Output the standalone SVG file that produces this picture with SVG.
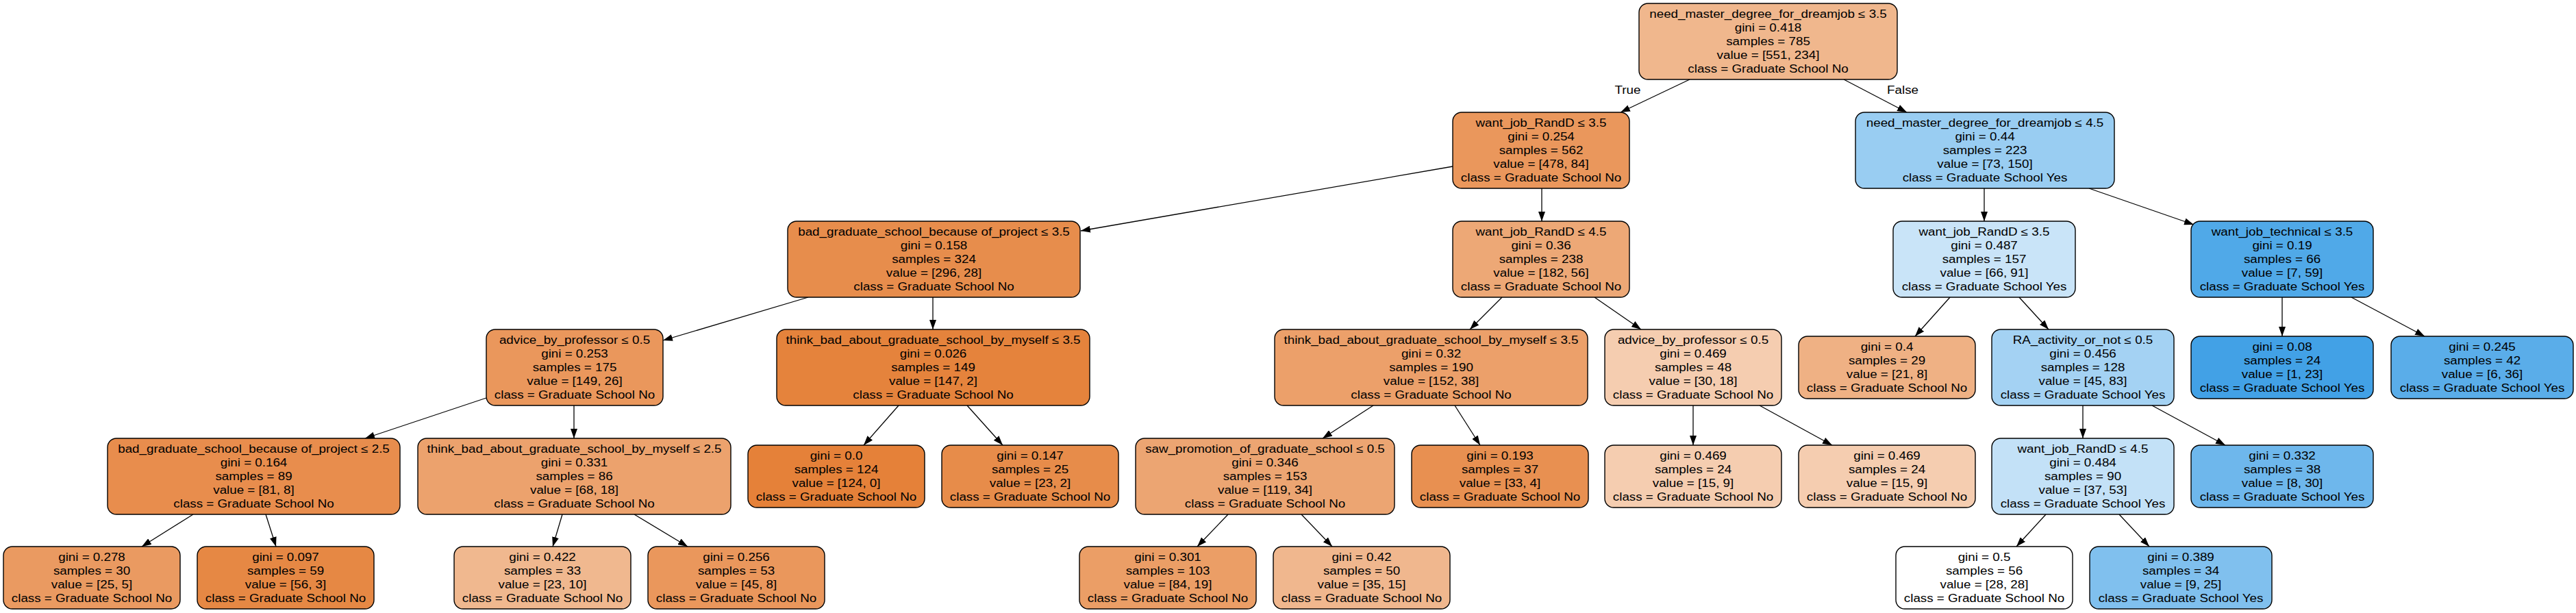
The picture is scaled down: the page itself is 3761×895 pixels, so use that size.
<svg xmlns="http://www.w3.org/2000/svg" width="3761" height="895" viewBox="0 0 3761 895">
<style>
.node rect{stroke:#000;stroke-width:1.4}
text{font-family:"Liberation Sans",Arial,Helvetica,sans-serif;font-size:16px;text-anchor:middle;fill:#000}
.edges line{stroke:#000;stroke-width:1.3;marker-end:url(#arr)}
</style>
<defs>
<marker id="arr" markerUnits="userSpaceOnUse" viewBox="0 0 14 10" refX="14" refY="5" markerWidth="14" markerHeight="10" orient="auto">
<path d="M0,0 L14,5 L0,10 z" fill="#000"/>
</marker>
</defs>
<rect x="0" y="0" width="3761" height="895" fill="#fff"/>
<g class="edges" id="edges">
<line x1="2467" y1="116" x2="2366" y2="164"/>
<line x1="2692" y1="116" x2="2784" y2="164"/>
<line x1="2121" y1="243" x2="1578" y2="337"/>
<line x1="2251" y1="275" x2="2251" y2="323"/>
<line x1="2897" y1="275" x2="2897" y2="323"/>
<line x1="3050" y1="275" x2="3203" y2="328"/>
<line x1="1180" y1="434" x2="968" y2="497"/>
<line x1="1362" y1="434" x2="1362" y2="481"/>
<line x1="2193" y1="434" x2="2146" y2="481"/>
<line x1="2328" y1="434" x2="2396" y2="481"/>
<line x1="2847" y1="434" x2="2796" y2="491"/>
<line x1="2948" y1="434" x2="2991" y2="481"/>
<line x1="3332" y1="434" x2="3332" y2="491"/>
<line x1="3433" y1="434" x2="3540" y2="491"/>
<line x1="710" y1="581" x2="533" y2="640"/>
<line x1="838" y1="592" x2="838" y2="640"/>
<line x1="1312" y1="592" x2="1261" y2="650"/>
<line x1="1412" y1="592" x2="1464" y2="650"/>
<line x1="2005" y1="592" x2="1931" y2="640"/>
<line x1="2124" y1="592" x2="2161" y2="650"/>
<line x1="2472" y1="592" x2="2472" y2="650"/>
<line x1="2569" y1="592" x2="2675" y2="650"/>
<line x1="3041" y1="592" x2="3041" y2="640"/>
<line x1="3142" y1="592" x2="3249" y2="650"/>
<line x1="282" y1="751" x2="207" y2="798"/>
<line x1="388" y1="751" x2="403" y2="798"/>
<line x1="821" y1="751" x2="807" y2="798"/>
<line x1="926" y1="751" x2="1004" y2="798"/>
<line x1="1793" y1="751" x2="1748" y2="798"/>
<line x1="1900" y1="751" x2="1945" y2="798"/>
<line x1="2987" y1="751" x2="2944" y2="798"/>
<line x1="3094" y1="751" x2="3138" y2="798"/>
<g transform="translate(2376.5,0) scale(1.175,1)"><text y="137">True</text></g>
<g transform="translate(2778,0) scale(1.175,1)"><text y="137">False</text></g>
</g>

<g class="node" id="n0"><rect x="2393" y="5" width="377" height="111" rx="13" fill="#f0b78d"/>
<g transform="translate(2581.5,5) scale(1.175,1)"><text y="21">need_master_degree_for_dreamjob ≤ 3.5</text><text y="41">gini = 0.418</text><text y="61">samples = 785</text><text y="81">value = [551, 234]</text><text y="101">class = Graduate School No</text></g></g>

<g class="node" id="n1"><rect x="2121" y="164" width="258" height="111" rx="13" fill="#ea975c"/>
<g transform="translate(2250,164) scale(1.175,1)"><text y="21">want_job_RandD ≤ 3.5</text><text y="41">gini = 0.254</text><text y="61">samples = 562</text><text y="81">value = [478, 84]</text><text y="101">class = Graduate School No</text></g></g>

<g class="node" id="n2"><rect x="2709" y="164" width="378" height="111" rx="13" fill="#99cdf2"/>
<g transform="translate(2898,164) scale(1.175,1)"><text y="21">need_master_degree_for_dreamjob ≤ 4.5</text><text y="41">gini = 0.44</text><text y="61">samples = 223</text><text y="81">value = [73, 150]</text><text y="101">class = Graduate School Yes</text></g></g>

<g class="node" id="n3"><rect x="1150" y="323" width="427" height="111" rx="13" fill="#e78d4c"/>
<g transform="translate(1363.5,323) scale(1.175,1)"><text y="21">bad_graduate_school_because of_project ≤ 3.5</text><text y="41">gini = 0.158</text><text y="61">samples = 324</text><text y="81">value = [296, 28]</text><text y="101">class = Graduate School No</text></g></g>

<g class="node" id="n4"><rect x="2121" y="323" width="258" height="111" rx="13" fill="#eda876"/>
<g transform="translate(2250,323) scale(1.175,1)"><text y="21">want_job_RandD ≤ 4.5</text><text y="41">gini = 0.36</text><text y="61">samples = 238</text><text y="81">value = [182, 56]</text><text y="101">class = Graduate School No</text></g></g>

<g class="node" id="n5"><rect x="2764" y="323" width="266" height="111" rx="13" fill="#c9e4f8"/>
<g transform="translate(2897,323) scale(1.175,1)"><text y="21">want_job_RandD ≤ 3.5</text><text y="41">gini = 0.487</text><text y="61">samples = 157</text><text y="81">value = [66, 91]</text><text y="101">class = Graduate School Yes</text></g></g>

<g class="node" id="n6"><rect x="3199" y="323" width="266" height="111" rx="13" fill="#50a9e8"/>
<g transform="translate(3332,323) scale(1.175,1)"><text y="21">want_job_technical ≤ 3.5</text><text y="41">gini = 0.19</text><text y="61">samples = 66</text><text y="81">value = [7, 59]</text><text y="101">class = Graduate School Yes</text></g></g>

<g class="node" id="n7"><rect x="710" y="481" width="258" height="111" rx="13" fill="#ea975c"/>
<g transform="translate(839,481) scale(1.175,1)"><text y="21">advice_by_professor ≤ 0.5</text><text y="41">gini = 0.253</text><text y="61">samples = 175</text><text y="81">value = [149, 26]</text><text y="101">class = Graduate School No</text></g></g>

<g class="node" id="n8"><rect x="1134" y="481" width="457" height="111" rx="13" fill="#e5833c"/>
<g transform="translate(1362.5,481) scale(1.175,1)"><text y="21">think_bad_about_graduate_school_by_myself ≤ 3.5</text><text y="41">gini = 0.026</text><text y="61">samples = 149</text><text y="81">value = [147, 2]</text><text y="101">class = Graduate School No</text></g></g>

<g class="node" id="n9"><rect x="1861" y="481" width="457" height="111" rx="13" fill="#eca06a"/>
<g transform="translate(2089.5,481) scale(1.175,1)"><text y="21">think_bad_about_graduate_school_by_myself ≤ 3.5</text><text y="41">gini = 0.32</text><text y="61">samples = 190</text><text y="81">value = [152, 38]</text><text y="101">class = Graduate School No</text></g></g>

<g class="node" id="n10"><rect x="2343" y="481" width="258" height="111" rx="13" fill="#f5cdb0"/>
<g transform="translate(2472,481) scale(1.175,1)"><text y="21">advice_by_professor ≤ 0.5</text><text y="41">gini = 0.469</text><text y="61">samples = 48</text><text y="81">value = [30, 18]</text><text y="101">class = Graduate School No</text></g></g>

<g class="node" id="n11"><rect x="2626" y="491" width="258" height="91" rx="13" fill="#efb184"/>
<g transform="translate(2755,491) scale(1.175,1)"><text y="21">gini = 0.4</text><text y="41">samples = 29</text><text y="61">value = [21, 8]</text><text y="81">class = Graduate School No</text></g></g>

<g class="node" id="n12"><rect x="2908" y="481" width="266" height="111" rx="13" fill="#a4d2f3"/>
<g transform="translate(3041,481) scale(1.175,1)"><text y="21">RA_activity_or_not ≤ 0.5</text><text y="41">gini = 0.456</text><text y="61">samples = 128</text><text y="81">value = [45, 83]</text><text y="101">class = Graduate School Yes</text></g></g>

<g class="node" id="n13"><rect x="3199" y="491" width="266" height="91" rx="13" fill="#42a1e6"/>
<g transform="translate(3332,491) scale(1.175,1)"><text y="21">gini = 0.08</text><text y="41">samples = 24</text><text y="61">value = [1, 23]</text><text y="81">class = Graduate School Yes</text></g></g>

<g class="node" id="n14"><rect x="3491" y="491" width="266" height="91" rx="13" fill="#5aade9"/>
<g transform="translate(3624,491) scale(1.175,1)"><text y="21">gini = 0.245</text><text y="41">samples = 42</text><text y="61">value = [6, 36]</text><text y="81">class = Graduate School Yes</text></g></g>

<g class="node" id="n15"><rect x="157" y="640" width="427" height="111" rx="13" fill="#e88d4d"/>
<g transform="translate(370.5,640) scale(1.175,1)"><text y="21">bad_graduate_school_because of_project ≤ 2.5</text><text y="41">gini = 0.164</text><text y="61">samples = 89</text><text y="81">value = [81, 8]</text><text y="101">class = Graduate School No</text></g></g>

<g class="node" id="n16"><rect x="610" y="640" width="457" height="111" rx="13" fill="#eca26d"/>
<g transform="translate(838.5,640) scale(1.175,1)"><text y="21">think_bad_about_graduate_school_by_myself ≤ 2.5</text><text y="41">gini = 0.331</text><text y="61">samples = 86</text><text y="81">value = [68, 18]</text><text y="101">class = Graduate School No</text></g></g>

<g class="node" id="n17"><rect x="1092" y="650" width="258" height="91" rx="13" fill="#e58139"/>
<g transform="translate(1221,650) scale(1.175,1)"><text y="21">gini = 0.0</text><text y="41">samples = 124</text><text y="61">value = [124, 0]</text><text y="81">class = Graduate School No</text></g></g>

<g class="node" id="n18"><rect x="1375" y="650" width="258" height="91" rx="13" fill="#e78c4a"/>
<g transform="translate(1504,650) scale(1.175,1)"><text y="21">gini = 0.147</text><text y="41">samples = 25</text><text y="61">value = [23, 2]</text><text y="81">class = Graduate School No</text></g></g>

<g class="node" id="n19"><rect x="1658" y="640" width="378" height="111" rx="13" fill="#eca572"/>
<g transform="translate(1847,640) scale(1.175,1)"><text y="21">saw_promotion_of_graduate_school ≤ 0.5</text><text y="41">gini = 0.346</text><text y="61">samples = 153</text><text y="81">value = [119, 34]</text><text y="101">class = Graduate School No</text></g></g>

<g class="node" id="n20"><rect x="2061" y="650" width="258" height="91" rx="13" fill="#e89051"/>
<g transform="translate(2190,650) scale(1.175,1)"><text y="21">gini = 0.193</text><text y="41">samples = 37</text><text y="61">value = [33, 4]</text><text y="81">class = Graduate School No</text></g></g>

<g class="node" id="n21"><rect x="2343" y="650" width="258" height="91" rx="13" fill="#f5cdb0"/>
<g transform="translate(2472,650) scale(1.175,1)"><text y="21">gini = 0.469</text><text y="41">samples = 24</text><text y="61">value = [15, 9]</text><text y="81">class = Graduate School No</text></g></g>

<g class="node" id="n22"><rect x="2626" y="650" width="258" height="91" rx="13" fill="#f5cdb0"/>
<g transform="translate(2755,650) scale(1.175,1)"><text y="21">gini = 0.469</text><text y="41">samples = 24</text><text y="61">value = [15, 9]</text><text y="81">class = Graduate School No</text></g></g>

<g class="node" id="n23"><rect x="2908" y="640" width="266" height="111" rx="13" fill="#c3e1f7"/>
<g transform="translate(3041,640) scale(1.175,1)"><text y="21">want_job_RandD ≤ 4.5</text><text y="41">gini = 0.484</text><text y="61">samples = 90</text><text y="81">value = [37, 53]</text><text y="101">class = Graduate School Yes</text></g></g>

<g class="node" id="n24"><rect x="3199" y="650" width="266" height="91" rx="13" fill="#6eb7ec"/>
<g transform="translate(3332,650) scale(1.175,1)"><text y="21">gini = 0.332</text><text y="41">samples = 38</text><text y="61">value = [8, 30]</text><text y="81">class = Graduate School Yes</text></g></g>

<g class="node" id="n25"><rect x="5" y="798" width="258" height="91" rx="13" fill="#ea9a61"/>
<g transform="translate(134,798) scale(1.175,1)"><text y="21">gini = 0.278</text><text y="41">samples = 30</text><text y="61">value = [25, 5]</text><text y="81">class = Graduate School No</text></g></g>

<g class="node" id="n26"><rect x="288" y="798" width="258" height="91" rx="13" fill="#e68844"/>
<g transform="translate(417,798) scale(1.175,1)"><text y="21">gini = 0.097</text><text y="41">samples = 59</text><text y="61">value = [56, 3]</text><text y="81">class = Graduate School No</text></g></g>

<g class="node" id="n27"><rect x="663" y="798" width="258" height="91" rx="13" fill="#f0b88f"/>
<g transform="translate(792,798) scale(1.175,1)"><text y="21">gini = 0.422</text><text y="41">samples = 33</text><text y="61">value = [23, 10]</text><text y="81">class = Graduate School No</text></g></g>

<g class="node" id="n28"><rect x="946" y="798" width="258" height="91" rx="13" fill="#ea975c"/>
<g transform="translate(1075,798) scale(1.175,1)"><text y="21">gini = 0.256</text><text y="41">samples = 53</text><text y="61">value = [45, 8]</text><text y="81">class = Graduate School No</text></g></g>

<g class="node" id="n29"><rect x="1576" y="798" width="258" height="91" rx="13" fill="#eb9e66"/>
<g transform="translate(1705,798) scale(1.175,1)"><text y="21">gini = 0.301</text><text y="41">samples = 103</text><text y="61">value = [84, 19]</text><text y="81">class = Graduate School No</text></g></g>

<g class="node" id="n30"><rect x="1859" y="798" width="258" height="91" rx="13" fill="#f0b78e"/>
<g transform="translate(1988,798) scale(1.175,1)"><text y="21">gini = 0.42</text><text y="41">samples = 50</text><text y="61">value = [35, 15]</text><text y="81">class = Graduate School No</text></g></g>

<g class="node" id="n31"><rect x="2768" y="798" width="258" height="91" rx="13" fill="#ffffff"/>
<g transform="translate(2897,798) scale(1.175,1)"><text y="21">gini = 0.5</text><text y="41">samples = 56</text><text y="61">value = [28, 28]</text><text y="81">class = Graduate School No</text></g></g>

<g class="node" id="n32"><rect x="3051" y="798" width="266" height="91" rx="13" fill="#80c0ee"/>
<g transform="translate(3184,798) scale(1.175,1)"><text y="21">gini = 0.389</text><text y="41">samples = 34</text><text y="61">value = [9, 25]</text><text y="81">class = Graduate School Yes</text></g></g>
</svg>
